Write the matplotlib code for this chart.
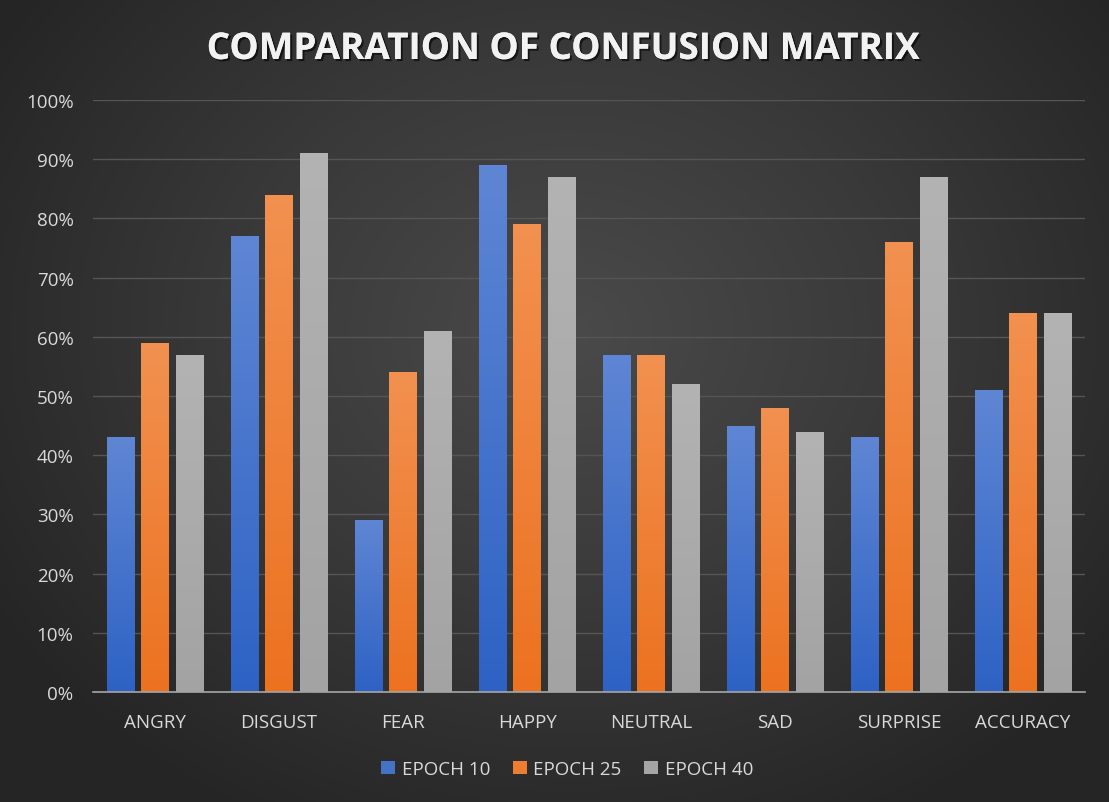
import numpy as np
import matplotlib
matplotlib.use("Agg")
import matplotlib.pyplot as plt
import matplotlib.patheffects as pe
from matplotlib.colors import LinearSegmentedColormap
from matplotlib.ticker import PercentFormatter

categories = ["ANGRY", "DISGUST", "FEAR", "HAPPY", "NEUTRAL", "SAD", "SURPRISE", "ACCURACY"]
series_names = ["EPOCH 10", "EPOCH 25", "EPOCH 40"]
epoch10 = [43, 77, 29, 89, 57, 45, 43, 51]
epoch25 = [59, 84, 54, 79, 57, 48, 76, 64]
epoch40 = [57, 91, 61, 87, 52, 44, 87, 64]
y_ticks = [0, 10, 20, 30, 40, 50, 60, 70, 80, 90, 100]

series = [epoch10, epoch25, epoch40]
colors_top = ["#5f86d4", "#f29150", "#b3b3b3"]
colors_bot = ["#2d62c4", "#ec7220", "#a3a3a3"]
solid = ["#4472c4", "#ed7d31", "#a5a5a5"]

plt.rcParams['font.family'] = ['Open Sans', 'DejaVu Sans']

W, H = 1109, 803
fig = plt.figure(figsize=(W / 100, H / 100), dpi=100)

# background radial gradient
bg = fig.add_axes([0, 0, 1, 1], zorder=-10)
yy, xx = np.mgrid[0:H, 0:W]
cx, cy = 570, 330
r = np.sqrt(((xx - cx) / 680.0) ** 2 + ((yy - cy) / 560.0) ** 2)
r = np.clip(r, 0, 1)
bgcmap = LinearSegmentedColormap.from_list("bg", ["#4a4a4a", "#393939", "#252525"])
bg.imshow(r, cmap=bgcmap, vmin=0, vmax=1, aspect="auto", extent=[0, W, H, 0])
bg.set_axis_off()

ax = fig.add_axes([93 / W, 1 - 693 / H, (1085 - 93) / W, (693 - 101) / H])
ax.set_facecolor("none")
x = np.arange(len(categories))
step = 0.278
width = 0.222
for i, vals in enumerate(series):
    bars = ax.bar(x + (i - 1) * step, vals, width=width, color=solid[i], zorder=3,
                  label=series_names[i])
    cmap = LinearSegmentedColormap.from_list("g%d" % i, [colors_bot[i], colors_top[i]])
    for b in bars:
        x0, y0 = b.get_x(), b.get_y()
        w, h = b.get_width(), b.get_height()
        grad = np.linspace(0, 1, 256).reshape(-1, 1)
        im = ax.imshow(grad, cmap=cmap, aspect="auto", origin="lower",
                       extent=[x0, x0 + w, y0, y0 + h], zorder=4)
        im.set_clip_path(b)

ax.set_xlim(-0.5, len(categories) - 0.5)
ax.set_ylim(0, 100)
ax.set_yticks(y_ticks)
ax.yaxis.set_major_formatter(PercentFormatter(decimals=0))
ax.set_xticks(x)
ax.set_xticklabels(categories)
ax.grid(axis="y", color="#555555", linewidth=1, zorder=0)
ax.set_axisbelow(True)
for s in ["top", "right", "left"]:
    ax.spines[s].set_visible(False)
ax.spines["bottom"].set_color("#a6a6a6")
ax.spines["bottom"].set_linewidth(1.2)
ax.spines["bottom"].set_zorder(5)
ax.tick_params(axis="both", length=0, colors="#d9d9d9", labelsize=13.5)
ax.tick_params(axis="y", pad=14)
ax.tick_params(axis="x", pad=15)

fig.text(562 / W, 1 - 50 / H, "COMPARATION OF CONFUSION MATRIX", ha="center", va="center",
         color="#f2f2f2", fontsize=26.5, fontweight="bold",
         path_effects=[pe.withSimplePatchShadow(offset=(1.5, -1.5), shadow_rgbFace="black", alpha=0.6),
                       pe.Normal()])

leg = ax.legend(loc="center", bbox_to_anchor=((567 - 93) / (1085 - 93), (693 - 770) / (693 - 101)), ncol=3,
                frameon=False, fontsize=13.5, labelcolor="#d9d9d9",
                handlelength=0.75, handleheight=0.75, handletextpad=0.35, columnspacing=1.2)

fig.savefig("out.png", dpi=100)
